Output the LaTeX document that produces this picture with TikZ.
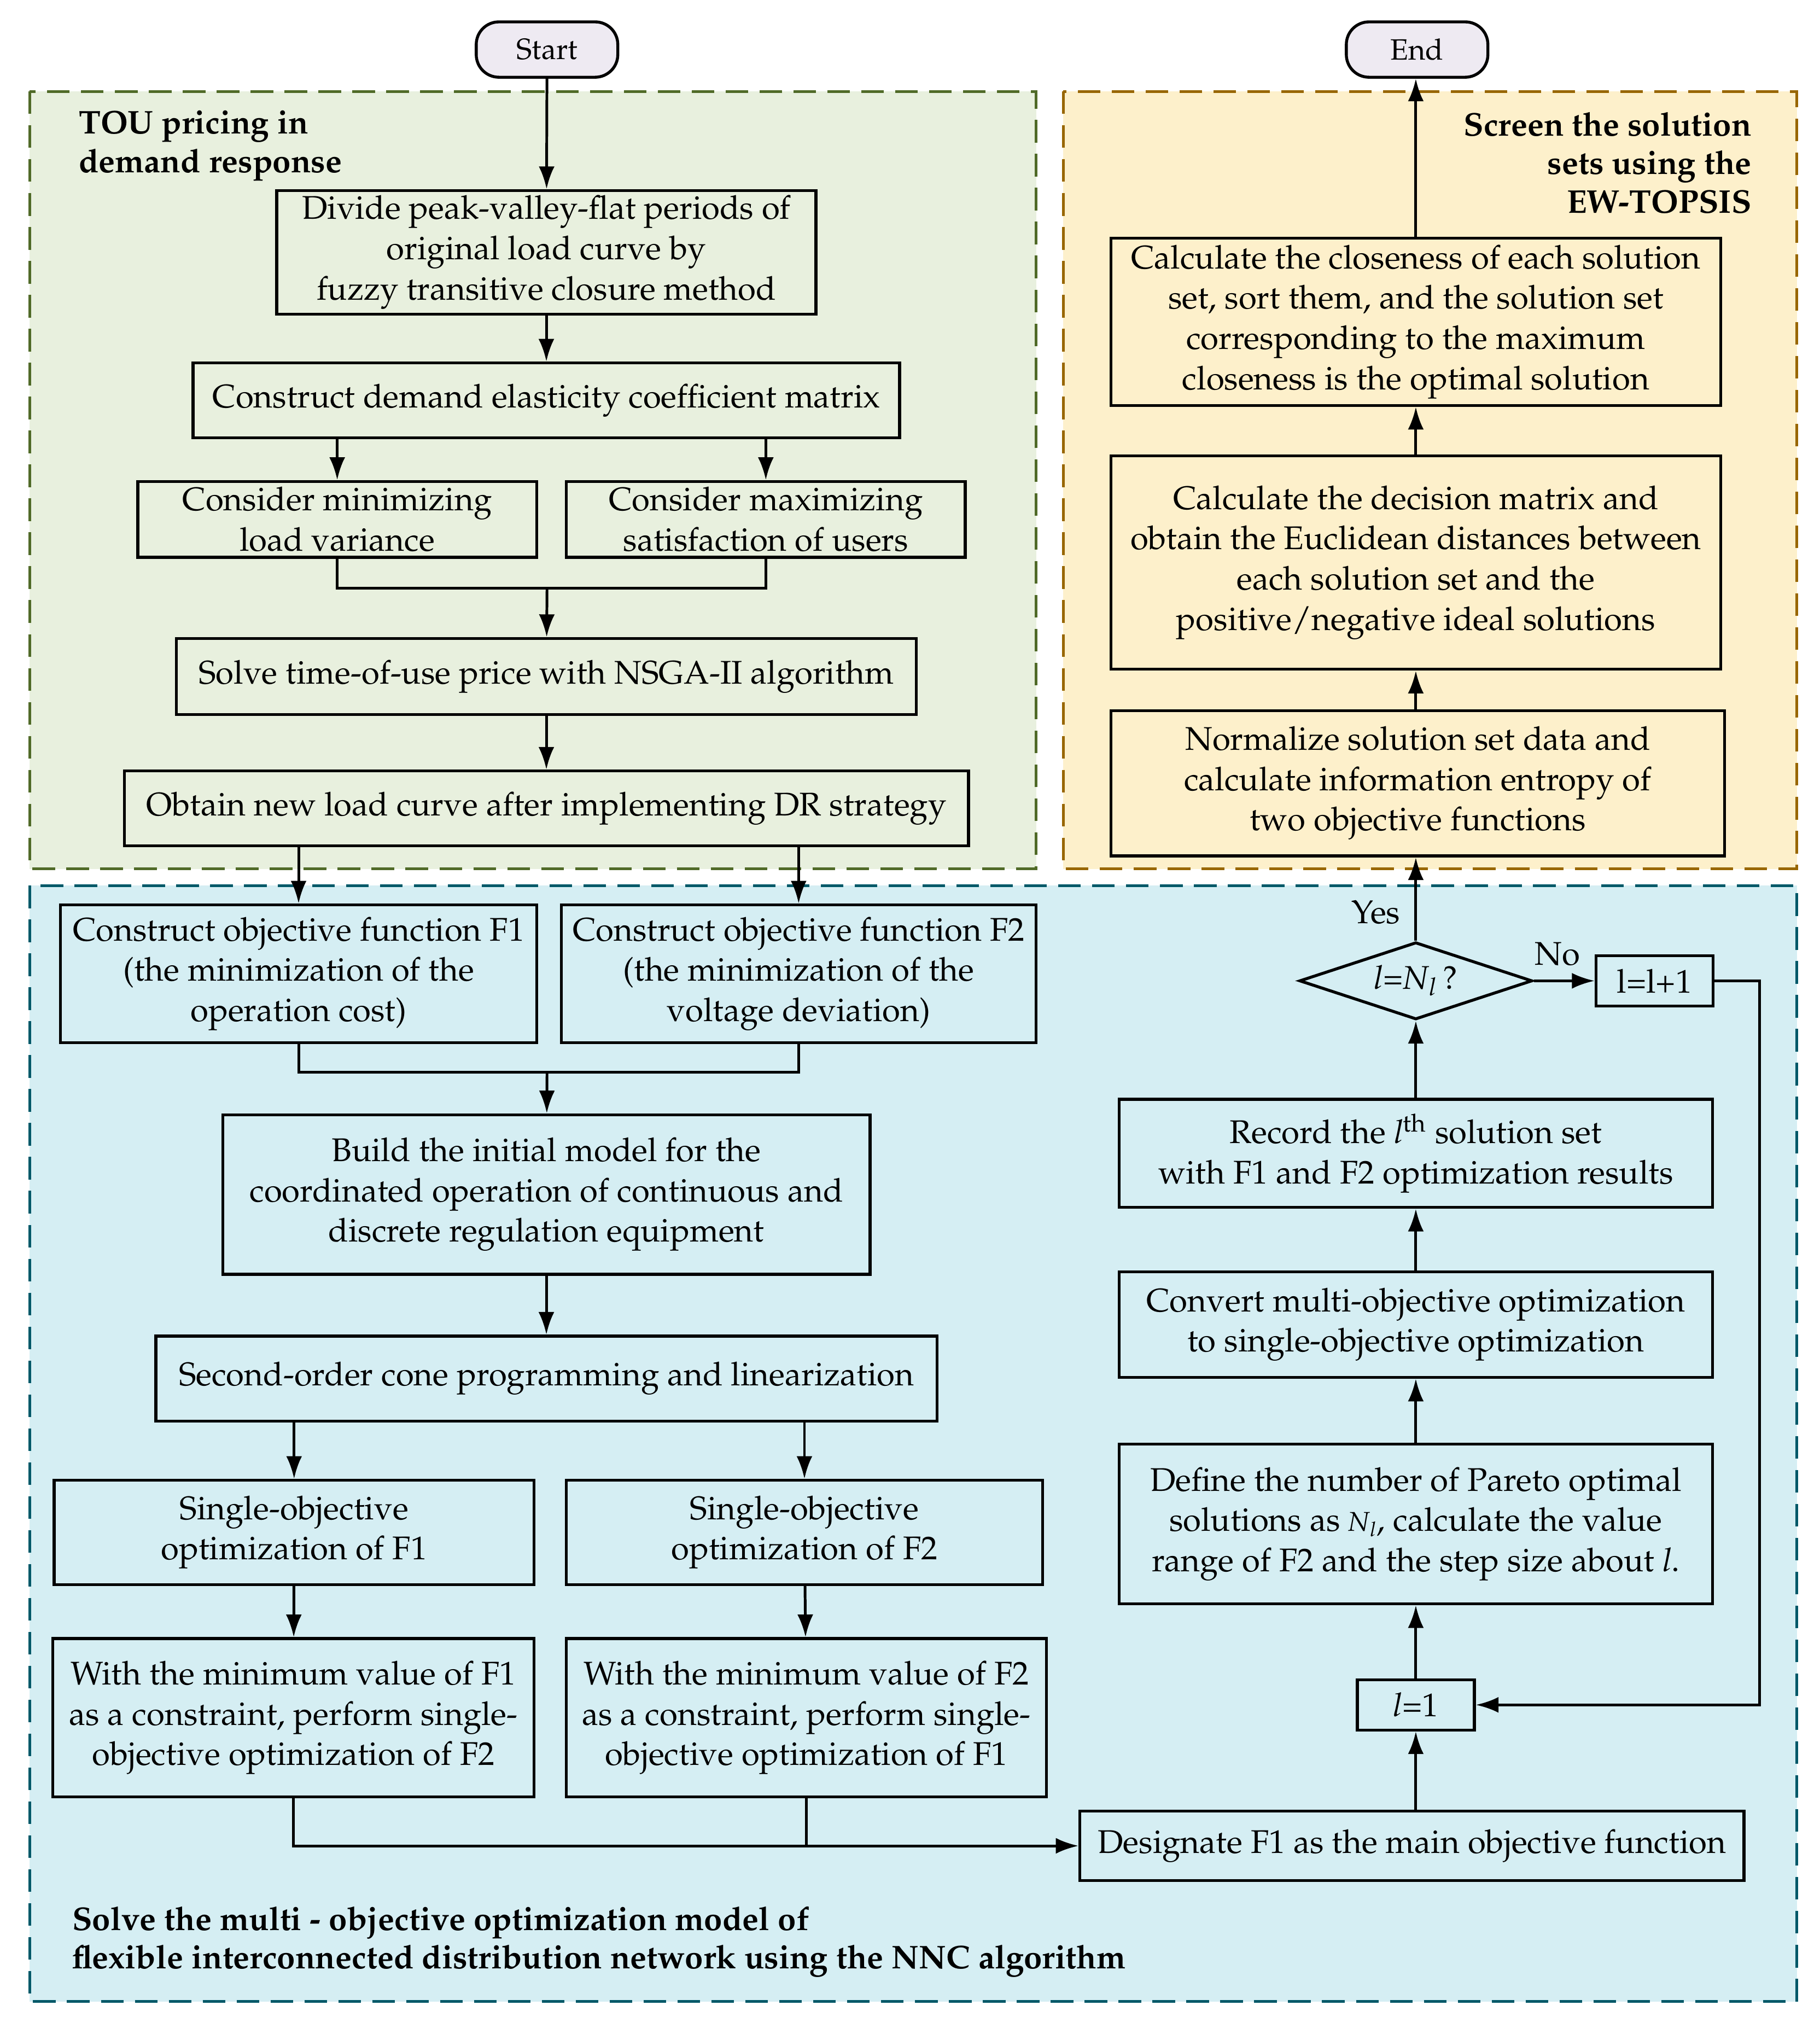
\documentclass[tikz,border=0pt]{standalone}
\usepackage[T1]{fontenc}
\usepackage{mathpazo}
\usepackage{xcolor}
\usetikzlibrary{arrows.meta,
	shapes.geometric,
	positioning,
	calc}

\definecolor{touFill}{RGB}{232,240,222}
\definecolor{touLine}{RGB}{80,106,40}
\definecolor{ewFill}{RGB}{253,240,203}
\definecolor{ewLine}{RGB}{152,102,0}
\definecolor{nncFill}{RGB}{213,238,243}
\definecolor{nncLine}{RGB}{0,88,104}
\definecolor{termFill}{RGB}{238,234,242}

\newcommand{\boxfont}{\fontsize{14.5pt}{17.8pt}\selectfont}
\newcommand{\titlefont}{\fontsize{14.5pt}{17pt}\selectfont\bfseries}

\tikzset{
	procbox/.style={draw, line width=1.3pt, align=center, inner sep=0pt, font=\boxfont},
	termbox/.style={draw, line width=1.3pt, rounded corners=10pt, fill=termFill, inner sep=0pt, font=\fontsize{13pt}{15pt}\selectfont, minimum width=2.2cm, minimum height=0.86cm},
	decision/.style={draw, diamond, aspect=3, line width=1.3pt, inner sep=0pt, font=\boxfont, minimum width=3.62cm, minimum height=1.2cm},
	region/.style={line width=1.2pt, dash pattern=on 10pt off 5pt},
	flow/.style={line width=1.2pt, -{Latex[length=10pt, width=7pt]}},
	link/.style={line width=1.2pt}
}

\begin{document}
\begin{tikzpicture}[x=0.02cm, y=-0.02cm]
	\useasboundingbox (0,0) rectangle (1414,1567);
	% regions
	\draw[region, fill=touFill, draw=touLine] (23,71) rectangle (805,675);
	\draw[region, fill=ewFill, draw=ewLine] (826,71) rectangle (1396,675);
	\draw[region, fill=nncFill, draw=nncLine] (23,688) rectangle (1396,1555);
	\node[font=\titlefont, align=left, anchor=north west] (touTitle) at (55,80) {TOU pricing in\\demand response};
	\node[font=\titlefont, align=right, anchor=north east] (ewTitle) at (1367,81) {Screen the solution\\sets using the\\EW-TOPSIS};
	\node[font=\titlefont, align=left, anchor=north west] (nncTitle) at (50,1475) {Solve the multi - objective optimization model of\\flexible interconnected distribution network using the NNC algorithm};

	% terminals
	\node[termbox] (start) at (425,38.5) {Start};
	\node[termbox] (end) at (1101,38.5) {End};

	% TOU pricing
	\node[procbox, minimum width=8.38cm, minimum height=1.92cm] (divide) at (424.5,196) {Divide peak-valley-flat periods of\\original load curve by\\fuzzy transitive closure method};
	\node[procbox, minimum width=10.98cm, minimum height=1.16cm] (elastic) at (424.5,311) {Construct demand elasticity coefficient matrix};
	\node[procbox, minimum width=6.2cm, minimum height=1.18cm] (minVar) at (262,403.5) {Consider minimizing\\load variance};
	\node[procbox, minimum width=6.2cm, minimum height=1.18cm] (maxSat) at (595,403.5) {Consider maximizing\\satisfaction of users};
	\node[procbox, minimum width=11.5cm, minimum height=1.18cm] (nsga) at (424.5,525.5) {Solve time-of-use price with NSGA-II algorithm};
	\node[procbox, minimum width=13.12cm, minimum height=1.16cm] (newLoad) at (424.5,628) {Obtain new load curve after implementing DR strategy};

	% NNC
	\node[procbox, minimum width=7.4cm, minimum height=2.14cm] (objF1) at (232,756.5) {Construct objective function F1\\(the minimization of the\\operation cost)};
	\node[procbox, minimum width=7.38cm, minimum height=2.14cm] (objF2) at (620.5,756.5) {Construct objective function F2\\(the minimization of the\\voltage deviation)};
	\node[procbox, minimum width=10.06cm, minimum height=2.48cm] (initModel) at (424.5,928) {Build the initial model for the\\coordinated operation of continuous and\\discrete regulation equipment};
	\node[procbox, minimum width=12.14cm, minimum height=1.32cm] (socp) at (424.5,1071) {Second-order cone programming and linearization};
	\node[procbox, minimum width=7.46cm, minimum height=1.62cm] (singleF1) at (228.5,1190.5) {Single-objective\\optimization of F1};
	\node[procbox, minimum width=7.4cm, minimum height=1.62cm] (singleF2) at (625,1190.5) {Single-objective\\optimization of F2};
	\node[procbox, minimum width=7.48cm, minimum height=2.46cm] (consF1) at (228,1334.5) {With the minimum value of F1\\as a constraint, perform single-\\objective optimization of F2};
	\node[procbox, minimum width=7.46cm, minimum height=2.46cm] (consF2) at (626.5,1334.5) {With the minimum value of F2\\as a constraint, perform single-\\objective optimization of F1};
	\node[procbox, minimum width=10.32cm, minimum height=1.08cm] (mainObj) at (1097,1434) {Designate F1 as the main objective function};
	\node[procbox, minimum width=1.82cm, minimum height=0.78cm] (lInit) at (1100,1324.5) {\textit{l}=1};
	\node[procbox, minimum width=9.22cm, minimum height=2.48cm] (pareto) at (1100,1184) {Define the number of Pareto optimal\\solutions as {\fontsize{12pt}{14pt}\selectfont\textit{N}\textsubscript{\textit{l}}}, calculate the value\\range of F2 and the step size about \textit{l}.};
	\node[procbox, minimum width=9.22cm, minimum height=1.64cm] (convert) at (1100,1029) {Convert multi-objective optimization\\to single-objective optimization};
	\node[procbox, minimum width=9.22cm, minimum height=1.68cm] (record) at (1100,896) {Record the \textit{l}\textsuperscript{th} solution set\\with F1 and F2 optimization results};
	\node[decision] (check) at (1100,762) {\textit{l}=\textit{N}\textsubscript{\textit{l}}\,?};
	\node[procbox, minimum width=1.82cm, minimum height=0.78cm] (lStep) at (1285.5,762) {l=l+1};

	% EW-TOPSIS
	\node[procbox, minimum width=9.54cm, minimum height=2.26cm] (normalize) at (1101.5,608.5) {Normalize solution set data and\\calculate information entropy of\\two objective functions};
	\node[procbox, minimum width=9.48cm, minimum height=3.32cm] (decMatrix) at (1100,437) {Calculate the decision matrix and\\obtain the Euclidean distances between\\each solution set and the\\positive/negative ideal solutions};
	\node[procbox, minimum width=9.48cm, minimum height=2.6cm] (closeness) at (1100,250) {Calculate the closeness of each solution\\set, sort them, and the solution set\\corresponding to the maximum\\closeness is the optimal solution};

	\node[font=\boxfont] (yes) at (1069,709) {Yes};
	\node[font=\boxfont] (no) at (1210,741) {No};

	\coordinate (joinTou) at (425,457);
	\coordinate (joinObj) at (425,833);
	\coordinate (loopBack) at (1367,762);

	% connectors
	\draw[flow] (start) -- (divide);
	\draw[flow] (divide) -- (elastic);
	\draw[flow] (elastic.south -| minVar.north) -- (minVar.north);
	\draw[flow] (elastic.south -| maxSat.north) -- (maxSat.north);
	\draw[link] (minVar.south) |- (joinTou) -| (maxSat.south);
	\draw[flow] (joinTou) -- (nsga);
	\draw[flow] (nsga) -- (newLoad);
	\draw[flow] (newLoad.south -| objF1.north) -- (objF1.north);
	\draw[flow] (newLoad.south -| objF2.north) -- (objF2.north);
	\draw[link] (objF1.south) |- (joinObj) -| (objF2.south);
	\draw[flow] (joinObj) -- (initModel);
	\draw[flow] (initModel) -- (socp);
	\draw[flow] (socp.south -| singleF1.north) -- (singleF1.north);
	\draw[flow] (socp.south -| singleF2.north) -- (singleF2.north);
	\draw[flow] (singleF1) -- (consF1);
	\draw[flow] (singleF2) -- (consF2);
	\draw[flow] (consF1.south) |- (mainObj.west);
	\draw[link] (consF2.south) -- (consF2.south |- mainObj.west);
	\draw[flow] (mainObj.north -| lInit.south) -- (lInit.south);
	\draw[flow] (lInit) -- (pareto);
	\draw[flow] (pareto) -- (convert);
	\draw[flow] (convert) -- (record);
	\draw[flow] (record) -- (check);
	\draw[flow] (check) -- (lStep);
	\draw[flow] (lStep.east) -- (loopBack) |- (lInit.east);
	\draw[flow] (check.north) -- (check.north |- normalize.south);
	\draw[flow] (normalize.north -| decMatrix.south) -- (decMatrix.south);
	\draw[flow] (decMatrix) -- (closeness);
	\draw[flow] (closeness.north) -- (closeness.north |- end.south);
\end{tikzpicture}
\end{document}
